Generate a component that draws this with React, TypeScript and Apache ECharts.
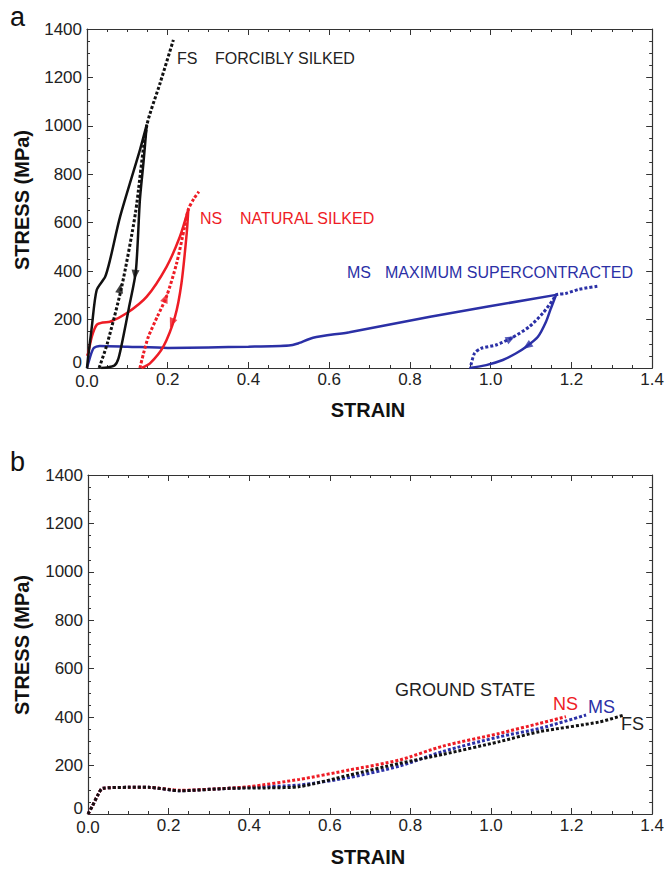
import React, { useEffect, useRef } from "react";
import * as echarts from "echarts";

const FONT = "'Liberation Sans', Arial, Helvetica, sans-serif";
const BLACK = "#111111";
const RED = "#ee1c25";
const BLUE = "#2b30a6";

// x ticks / y ticks
const strainTicks = [0, 0.2, 0.4, 0.6, 0.8, 1.0, 1.2, 1.4];
const stressTicks = [0, 200, 400, 600, 800, 1000, 1200, 1400];

// Panel a: forcibly silked (FS)
const fsLoad = [[0, 0], [0.003, 47], [0.012, 171], [0.024, 322], [0.045, 377], [0.057, 446], [0.082, 625], [0.131, 900], [0.148, 1005]];
const fsUnload = [[0.148, 1005], [0.14, 850], [0.131, 694], [0.121, 400], [0.104, 250], [0.09, 130], [0.078, 40], [0.068, 10], [0.05, 2], [0.035, 0]];
const fsReload = [[0.03, 0], [0.05, 100], [0.086, 336], [0.12, 640], [0.148, 1000], [0.181, 1176], [0.214, 1355]];

// Panel a: natural silked (NS)
const nsLoad = [[0, 50], [0.003, 62], [0.012, 130], [0.024, 178], [0.04, 188], [0.057, 191], [0.098, 226], [0.148, 295], [0.197, 418], [0.23, 542], [0.251, 655]];
const nsUnload = [[0.251, 655], [0.247, 556], [0.234, 350], [0.218, 212], [0.189, 88], [0.156, 19], [0.135, 0]];
const nsReload = [[0.131, 0], [0.14, 60], [0.152, 129], [0.175, 215], [0.197, 295], [0.222, 432], [0.242, 584], [0.251, 655], [0.265, 700], [0.277, 728]];

// Panel a: maximum supercontracted (MS)
const msLoad = [[0, 0], [0.003, 19], [0.016, 81], [0.032, 91], [0.1, 88], [0.2, 83], [0.3, 85], [0.4, 88], [0.5, 93], [0.52, 100], [0.56, 125], [0.65, 148], [0.85, 212], [1.162, 302]];
const msUnload = [[1.162, 302], [1.149, 246], [1.137, 191], [1.117, 129], [1.088, 88], [1.063, 61], [1.03, 33], [0.989, 12], [0.947, 0]];
const msReload = [[0.951, 12], [0.96, 61], [0.976, 81], [1.013, 95], [1.054, 126], [1.096, 171], [1.129, 226], [1.154, 281], [1.162, 302], [1.186, 308], [1.219, 325], [1.269, 339]];

// Arrow heads on panel a: [strain, stress, rotation(deg)]
const blackArrows = [[0.082, 330, -11], [0.119, 385, 174]];
const redArrows = [[0.195, 290, -22], [0.21, 185, 159]];
const blueArrows = [[1.05, 122, -62], [1.09, 90, 125]];

// Panel b: ground state
const gsNS = [[0, 0], [0.01, 30], [0.025, 80], [0.036, 106], [0.1, 110], [0.15, 110], [0.228, 98], [0.3, 102], [0.4, 113], [0.525, 143], [0.649, 182], [0.773, 223], [0.88, 280], [1.021, 333], [1.12, 374], [1.186, 402]];
const gsMS = [[0, 0], [0.01, 30], [0.025, 80], [0.036, 106], [0.1, 110], [0.15, 110], [0.228, 96], [0.3, 102], [0.4, 110], [0.525, 120], [0.649, 151], [0.773, 198], [0.88, 258], [1.021, 319], [1.12, 353], [1.236, 409]];
const gsFS = [[0, 0], [0.01, 30], [0.025, 80], [0.036, 106], [0.1, 110], [0.15, 110], [0.228, 96], [0.352, 106], [0.45, 108], [0.525, 113], [0.649, 161], [0.773, 209], [0.88, 246], [1.021, 299], [1.12, 340], [1.269, 380], [1.33, 409]];

const solid = (data: number[][], color: string, xi: number, yi: number) => ({
  type: "line",
  data,
  xAxisIndex: xi,
  yAxisIndex: yi,
  showSymbol: false,
  smooth: 0.25,
  lineStyle: { color, width: 2.5 },
  silent: true,
  z: 3,
});
const dotted = (data: number[][], color: string, xi: number, yi: number) => ({
  type: "line",
  data,
  xAxisIndex: xi,
  yAxisIndex: yi,
  showSymbol: false,
  smooth: 0.25,
  lineStyle: { color, width: 3, type: [3, 2] },
  silent: true,
  z: 3,
});
const arrows = (list: number[][], color: string) => ({
  type: "scatter",
  xAxisIndex: 0,
  yAxisIndex: 0,
  symbol: "triangle",
  symbolSize: [8, 10],
  silent: true,
  z: 5,
  itemStyle: { color },
  data: list.map((a) => ({ value: [a[0], a[1]], symbolRotate: a[2] })),
});

function xAxes(gridIndex: number) {
  const common = {
    type: "value",
    gridIndex,
    min: strainTicks[0],
    max: strainTicks[strainTicks.length - 1],
    interval: 0.2,
    axisLine: { show: true, onZero: false, lineStyle: { color: "#333", width: 1.2 } },
    axisTick: { show: true, inside: true, length: 6, lineStyle: { color: "#333" } },
    minorTick: { show: true, splitNumber: 4, length: 3, lineStyle: { color: "#333" } },
    splitLine: { show: false },
  };
  return [
    {
      ...common,
      position: "bottom",
      axisLabel: {
        formatter: (v: number) => (v === 0 ? "{z|0.0}" : v.toFixed(1)),
        fontSize: 17,
        lineHeight: 13,
        color: "#222",
        margin: 5,
        fontFamily: FONT,
        rich: { z: { fontSize: 17, lineHeight: 13, color: "#222", fontFamily: FONT, padding: [4, 0, 0, 0] } },
      },
    },
    { ...common, position: "top", axisLabel: { show: false } },
  ];
}
function yAxes(gridIndex: number) {
  const common = {
    type: "value",
    gridIndex,
    min: stressTicks[0],
    max: stressTicks[stressTicks.length - 1],
    interval: 200,
    axisLine: { show: true, onZero: false, lineStyle: { color: "#333", width: 1.2 } },
    axisTick: { show: true, inside: true, length: 6, lineStyle: { color: "#333" } },
    minorTick: { show: true, splitNumber: 4, length: 3, lineStyle: { color: "#333" } },
    splitLine: { show: false },
  };
  return [
    {
      ...common,
      position: "left",
      axisLabel: {
        formatter: (v: number) => (v === 0 ? "{z|0}" : String(v)),
        fontSize: 17,
        lineHeight: 12,
        color: "#222",
        margin: 5,
        fontFamily: FONT,
        rich: { z: { fontSize: 17, lineHeight: 12, color: "#222", fontFamily: FONT, padding: [0, 0, 12, 0] } },
      },
    },
    { ...common, position: "right", axisLabel: { show: false } },
  ];
}

const txt = (text: string, x: number, y: number, size: number, fill: string, opts: any = {}) => ({
  type: "text",
  x,
  y,
  silent: true,
  rotation: opts.rotation || 0,
  style: {
    text,
    fill,
    font: `${opts.bold ? "bold " : ""}${size}px ${FONT}`,
    textAlign: opts.align || "left",
    textVerticalAlign: "middle",
  },
});

export default function App() {
  const ref = useRef<HTMLDivElement>(null);
  useEffect(() => {
    document.body.style.margin = "0";
    const chart = echarts.init(ref.current!, null, { renderer: "svg" });
    const xa = [...xAxes(0), ...xAxes(1)];
    const ya = [...yAxes(0), ...yAxes(1)];
    chart.setOption({
      animation: false,
      backgroundColor: "#ffffff",
      grid: [
        { left: 87, top: 29, width: 566, height: 339 },
        { left: 88, top: 475, width: 565, height: 339 },
      ],
      xAxis: xa,
      yAxis: ya,
      series: [
        solid(msLoad, BLUE, 0, 0),
        solid(msUnload, BLUE, 0, 0),
        dotted(msReload, BLUE, 0, 0),
        solid(nsLoad, RED, 0, 0),
        solid(nsUnload, RED, 0, 0),
        dotted(nsReload, RED, 0, 0),
        solid(fsLoad, BLACK, 0, 0),
        solid(fsUnload, BLACK, 0, 0),
        dotted(fsReload, BLACK, 0, 0),
        arrows(blackArrows, BLACK),
        arrows(redArrows, RED),
        arrows(blueArrows, BLUE),
        dotted(gsMS, BLUE, 2, 2),
        dotted(gsNS, RED, 2, 2),
        dotted(gsFS, BLACK, 2, 2),
      ],
      graphic: [
        txt("a", 10, 17, 27, "#111"),
        txt("b", 10, 462, 27, "#111"),
        txt("STRESS (MPa)", 22, 200, 20, "#111", { bold: true, align: "center", rotation: Math.PI / 2 }),
        txt("STRAIN", 368, 410, 20, "#111", { bold: true, align: "center" }),
        txt("STRESS (MPa)", 22, 645, 20, "#111", { bold: true, align: "center", rotation: Math.PI / 2 }),
        txt("STRAIN", 368, 857, 20, "#111", { bold: true, align: "center" }),
        txt("FS", 177, 58, 16, "#222"),
        txt("FORCIBLY SILKED", 215, 58, 16, "#222"),
        txt("NS", 200, 218, 16, RED),
        txt("NATURAL SILKED", 240, 218, 16, RED),
        txt("MS", 347, 272, 16, BLUE),
        txt("MAXIMUM SUPERCONTRACTED", 385, 272, 16, BLUE),
        txt("GROUND STATE", 395, 690, 18, "#222"),
        txt("NS", 553, 704, 18, RED),
        txt("MS", 588, 707, 18, BLUE),
        txt("FS", 621, 724, 18, "#222"),
      ],
    });
    return () => chart.dispose();
  }, []);
  return <div ref={ref} style={{ width: 667, height: 871 }} />;
}
